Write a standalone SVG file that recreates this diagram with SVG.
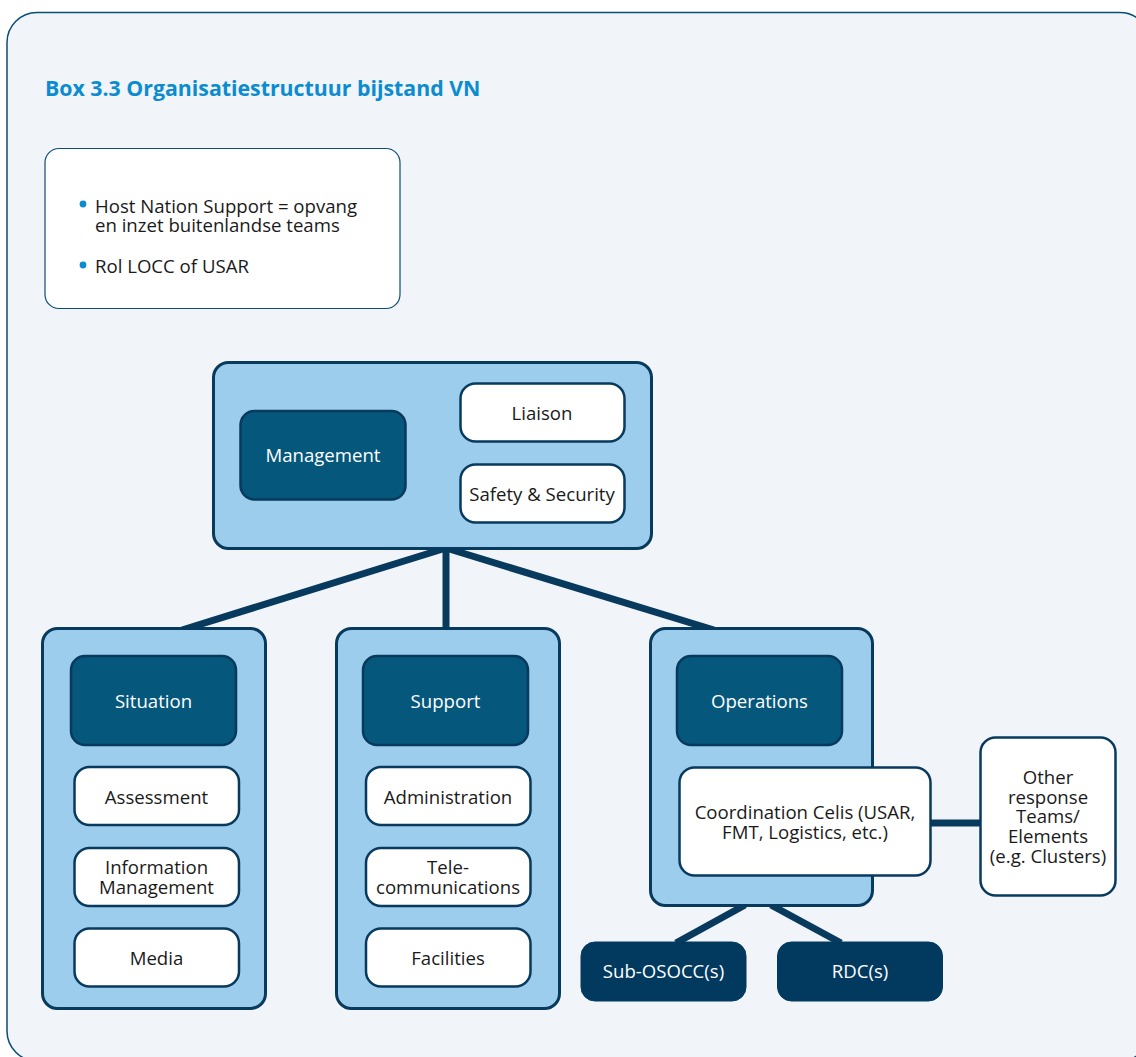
<svg xmlns="http://www.w3.org/2000/svg" width="1136" height="1057" viewBox="0 0 1136 1057">
<style>
text{font-family:"Open Sans","Noto Sans","Liberation Sans",sans-serif;font-size:18.6px;text-anchor:middle}
.title{font-weight:bold;font-size:21.3px;fill:#0b8ccf;text-anchor:start}
.bul{text-anchor:start;fill:#1a1a1a;font-size:18.6px}
.col{fill:#9dcdec;stroke:#083a5e;stroke-width:3}
.head{fill:#05577b;stroke:#083a5e;stroke-width:2.5}
.leaf{fill:#ffffff;stroke:#083a5e;stroke-width:2.5}
.navy{fill:#023a5f;stroke:#023a5f;stroke-width:1}
.wt{fill:#ffffff}
.bt{fill:#1a1a1a}
.conn{stroke:#083a5e;stroke-width:7;fill:none}
</style>
<rect x="7" y="12.5" width="1143" height="1048.5" rx="30" fill="#f1f4f9" stroke="#0a4d75" stroke-width="1.5"/>
<text class="title" x="45" y="96">Box 3.3 Organisatiestructuur bijstand VN</text>
<g id="info">
<rect x="45" y="148.5" width="355" height="160" rx="14" fill="#ffffff" stroke="#0a4d75" stroke-width="1.2"/>
<circle cx="83" cy="204" r="3.4" fill="#0b8ccf"/>
<text class="bul" x="95" y="213">Host Nation Support = opvang</text>
<text class="bul" x="95" y="232">en inzet buitenlandse teams</text>
<circle cx="83" cy="265" r="3.4" fill="#0b8ccf"/>
<text class="bul" x="95" y="273">Rol LOCC of USAR</text>
</g>
<g id="connectors">
<line class="conn" x1="446" y1="548" x2="182" y2="630"/>
<line class="conn" x1="446" y1="548" x2="446" y2="630"/>
<line class="conn" x1="446" y1="548" x2="714" y2="630"/>
<line class="conn" x1="931" y1="823" x2="981" y2="823"/>
<line class="conn" x1="745" y1="905" x2="676" y2="943"/>
<line class="conn" x1="771" y1="905" x2="841" y2="943"/>
</g>
<g id="management-section">
<rect class="col" x="213.5" y="362.5" width="438" height="186" rx="15"/>
</g>
<g id="management">
<rect class="head" x="240.5" y="411" width="165" height="88.5" rx="14"/>
<text class="wt" x="323" y="462">Management</text>
</g>
<g id="liaison">
<rect class="leaf" x="460.5" y="383.5" width="164" height="58" rx="15"/>
<text class="bt" x="542" y="420">Liaison</text>
</g>
<g id="safety">
<rect class="leaf" x="460.5" y="464.5" width="164" height="58" rx="15"/>
<text class="bt" x="542" y="501">Safety &amp; Security</text>
</g>
<g id="situation-section">
<rect class="col" x="42.5" y="628.5" width="223" height="380" rx="15"/>
</g>
<g id="situation">
<rect class="head" x="71" y="656" width="165" height="89" rx="14"/>
<text class="wt" x="153.5" y="708">Situation</text>
</g>
<g id="assessment">
<rect class="leaf" x="74.5" y="767" width="164.5" height="58" rx="15"/>
<text class="bt" x="156.5" y="804">Assessment</text>
</g>
<g id="information-management">
<rect class="leaf" x="74.5" y="848" width="164.5" height="58" rx="15"/>
<text class="bt" x="156.5" y="874">Information</text>
<text class="bt" x="156.5" y="894">Management</text>
</g>
<g id="media">
<rect class="leaf" x="74.5" y="928.5" width="164.5" height="58" rx="15"/>
<text class="bt" x="156.5" y="965">Media</text>
</g>
<g id="support-section">
<rect class="col" x="336.5" y="628.5" width="223" height="380" rx="15"/>
</g>
<g id="support">
<rect class="head" x="363" y="656" width="165" height="89" rx="14"/>
<text class="wt" x="445.5" y="708">Support</text>
</g>
<g id="administration">
<rect class="leaf" x="366" y="767" width="164.5" height="58" rx="15"/>
<text class="bt" x="448" y="804">Administration</text>
</g>
<g id="telecommunications">
<rect class="leaf" x="366" y="848" width="164.5" height="58" rx="15"/>
<text class="bt" x="448" y="874">Tele-</text>
<text class="bt" x="448" y="894">communications</text>
</g>
<g id="facilities">
<rect class="leaf" x="366" y="928.5" width="164.5" height="58" rx="15"/>
<text class="bt" x="448" y="965">Facilities</text>
</g>
<g id="operations-section">
<rect class="col" x="650.5" y="628.5" width="222" height="277" rx="15"/>
</g>
<g id="operations">
<rect class="head" x="677" y="656" width="165" height="89" rx="14"/>
<text class="wt" x="759.5" y="708">Operations</text>
</g>
<g id="coordination-cells">
<rect class="leaf" x="679.5" y="767.5" width="251" height="108" rx="15"/>
<text class="bt" x="805" y="819">Coordination Celis (USAR,</text>
<text class="bt" x="805" y="839">FMT, Logistics, etc.)</text>
</g>
<g id="other-response">
<rect class="leaf" x="980.5" y="737.5" width="135" height="158" rx="15"/>
<text class="bt" x="1048" y="784">Other</text>
<text class="bt" x="1048" y="804">response</text>
<text class="bt" x="1048" y="823">Teams/</text>
<text class="bt" x="1048" y="843">Elements</text>
<text class="bt" x="1048" y="863">(e.g. Clusters)</text>
</g>
<g id="sub-osocc">
<rect class="navy" x="581" y="942" width="165" height="59" rx="14"/>
<text class="wt" x="663.5" y="978">Sub-OSOCC(s)</text>
</g>
<g id="rdc">
<rect class="navy" x="777.5" y="942" width="165" height="59" rx="14"/>
<text class="wt" x="860" y="978">RDC(s)</text>
</g>
</svg>
